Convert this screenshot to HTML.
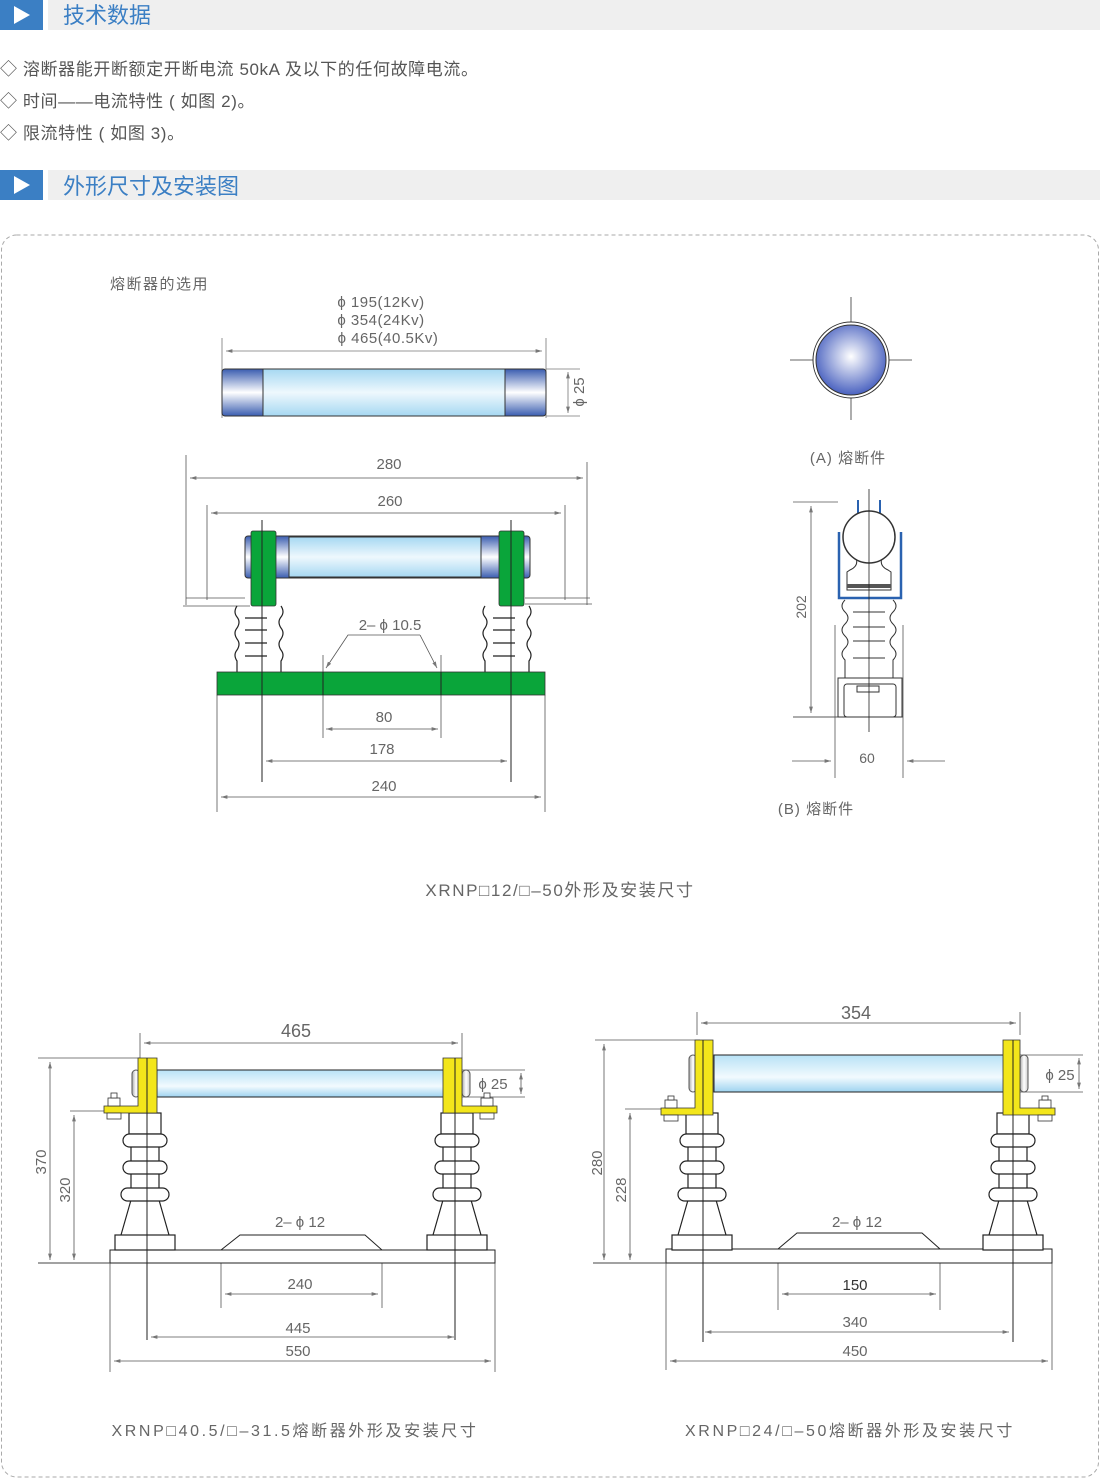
<!DOCTYPE html>
<html><head><meta charset="utf-8"><style>
html,body{margin:0;padding:0;background:#fff;}
svg{display:block;}
text{font-family:"Liberation Sans","Noto Sans CJK SC",sans-serif;fill:#666;}
</style></head><body>
<svg width="1100" height="1480" viewBox="0 0 1100 1480" xmlns="http://www.w3.org/2000/svg">
<defs>
<linearGradient id="cap" x1="0" y1="0" x2="0" y2="1">
<stop offset="0" stop-color="#3a5db0"/><stop offset="0.5" stop-color="#ffffff"/><stop offset="1" stop-color="#3a5db0"/></linearGradient>
<linearGradient id="tube" x1="0" y1="0" x2="0" y2="1">
<stop offset="0" stop-color="#a6d8f2"/><stop offset="0.5" stop-color="#eef8fd"/><stop offset="1" stop-color="#a6d8f2"/></linearGradient>
<linearGradient id="tube2" x1="0" y1="0" x2="0" y2="1">
<stop offset="0" stop-color="#b8e2f6"/><stop offset="0.6" stop-color="#f2fafe"/><stop offset="1" stop-color="#9ed3f0"/></linearGradient>
<radialGradient id="ball" cx="0.5" cy="0.45" r="0.55">
<stop offset="0" stop-color="#ffffff"/><stop offset="1" stop-color="#4a62c0"/></radialGradient>
<linearGradient id="gcap" x1="0" y1="0" x2="1" y2="0">
<stop offset="0" stop-color="#aaa"/><stop offset="0.5" stop-color="#fff"/><stop offset="1" stop-color="#ccc"/></linearGradient>
<marker id="ar" viewBox="0 0 10 10" refX="10" refY="5" markerWidth="8" markerHeight="8" orient="auto-start-reverse"><path d="M0,2 L10,5 L0,8 Z" fill="#777"/></marker>
<g id="ins" fill="#fff" stroke="#222" stroke-width="1.2">
<path d="M-14,1200 L-24,1235 M14,1200 L24,1235" fill="none"/>
<line x1="-14" y1="1113" x2="-14" y2="1200"/><line x1="14" y1="1113" x2="14" y2="1200"/>
<rect x="-16" y="1113" width="32" height="21"/>
<rect x="-22" y="1134" width="44" height="13" rx="6.5"/>
<rect x="-22" y="1161" width="44" height="13" rx="6.5"/>
<rect x="-24" y="1188" width="48" height="13" rx="6.5"/>
<rect x="-30" y="1235" width="60" height="15"/>
</g>
<g id="wav" fill="#fff" stroke="#222" stroke-width="1.2">
<path d="M-22,606 q-4,6 0,11 q4,5 0,11 q-4,5 0,11 q4,5 0,11 q-4,5 0,11 l0,11 M22,606 q4,6 0,11 q-4,5 0,11 q4,5 0,11 q-4,5 0,11 q4,5 0,11 l0,11" fill="none"/>
<line x1="-14" y1="618" x2="8" y2="618"/><line x1="-14" y1="630" x2="8" y2="630"/><line x1="-14" y1="643" x2="8" y2="643"/><line x1="-14" y1="656" x2="8" y2="656"/>
</g>
</defs>

<!-- headers -->
<rect x="0" y="0" width="43" height="30" fill="#3b7fc4"/>
<path d="M14,6 L30,15 L14,24 Z" fill="#fff"/>
<rect x="48" y="0" width="1052" height="30" fill="#efefef"/>
<text x="63" y="23" font-size="22" style="fill:#3b7fc4">技术数据</text>
<text x="0" y="75" font-size="17" letter-spacing="0.6" style="fill:#555">◇ 溶断器能开断额定开断电流 50kA 及以下的任何故障电流。</text>
<text x="0" y="107" font-size="17" letter-spacing="0.6" style="fill:#555">◇ 时间——电流特性 ( 如图 2)。</text>
<text x="0" y="139" font-size="17" letter-spacing="0.6" style="fill:#555">◇ 限流特性 ( 如图 3)。</text>
<rect x="0" y="170" width="43" height="30" fill="#3b7fc4"/>
<path d="M14,176 L30,185 L14,194 Z" fill="#fff"/>
<rect x="48" y="170" width="1052" height="30" fill="#efefef"/>
<text x="63" y="194" font-size="22" style="fill:#3b7fc4">外形尺寸及安装图</text>

<rect x="1.5" y="235" width="1097" height="1242" rx="15" fill="none" stroke="#aaa" stroke-dasharray="4,3"/>

<g stroke="#777" stroke-width="0.8" fill="none">
<line x1="222" y1="338" x2="222" y2="418"/><line x1="546" y1="338" x2="546" y2="418"/>
<line x1="226" y1="351" x2="542" y2="351" marker-start="url(#ar)" marker-end="url(#ar)"/>
<line x1="546" y1="369" x2="580" y2="369"/><line x1="546" y1="416" x2="580" y2="416"/>
<line x1="568" y1="372" x2="568" y2="413" marker-start="url(#ar)" marker-end="url(#ar)"/>
<line x1="790" y1="360" x2="912" y2="360" stroke="#333"/><line x1="851" y1="297" x2="851" y2="420" stroke="#333"/>
</g>
<text x="110" y="289" font-size="15" letter-spacing="1.5">熔断器的选用</text>
<text x="381" y="307" font-size="15" letter-spacing="0.5" text-anchor="middle">ϕ 195(12Kv)</text>
<text x="381" y="325" font-size="15" letter-spacing="0.5" text-anchor="middle">ϕ 354(24Kv)</text>
<text x="388" y="343" font-size="15" letter-spacing="0.5" text-anchor="middle">ϕ 465(40.5Kv)</text>
<text x="0" y="0" font-size="15" text-anchor="middle" transform="translate(584,392) rotate(-90)">ϕ 25</text>
<rect x="222" y="369" width="324" height="47" rx="3" fill="url(#cap)" stroke="#333"/>
<rect x="263" y="369" width="242" height="47" fill="url(#tube)" stroke="#333"/>
<circle cx="851" cy="360" r="38" fill="#fff" stroke="#333"/>
<circle cx="851" cy="360" r="35" fill="url(#ball)" stroke="#333"/>
<text x="848" y="463" font-size="15" letter-spacing="1" text-anchor="middle">(A) 熔断件</text>

<!-- middle left drawing -->
<g stroke="#555" stroke-width="0.8" fill="none">
<line x1="186" y1="455" x2="186" y2="605"/><line x1="587" y1="462" x2="587" y2="605"/>
<line x1="190" y1="478" x2="583" y2="478" marker-start="url(#ar)" marker-end="url(#ar)"/>
<line x1="207" y1="505" x2="207" y2="600"/><line x1="565" y1="505" x2="565" y2="600"/>
<line x1="211" y1="513" x2="561" y2="513" marker-start="url(#ar)" marker-end="url(#ar)"/>
<line x1="186" y1="598" x2="245" y2="598"/><line x1="183" y1="606" x2="250" y2="606"/>
<line x1="525" y1="598" x2="590" y2="598"/><line x1="525" y1="604" x2="592" y2="604"/>
<line x1="217" y1="695" x2="217" y2="812"/><line x1="545" y1="695" x2="545" y2="812"/>
<line x1="323" y1="655" x2="323" y2="738"/><line x1="441" y1="655" x2="441" y2="738"/>
<line x1="326" y1="729" x2="438" y2="729" marker-start="url(#ar)" marker-end="url(#ar)"/>
<line x1="266" y1="761" x2="507" y2="761" marker-start="url(#ar)" marker-end="url(#ar)"/>
<line x1="221" y1="797" x2="541" y2="797" marker-start="url(#ar)" marker-end="url(#ar)"/>
<path d="M420,635 L348,635 L326,668" marker-end="url(#ar)"/>
<path d="M420,635 L437,668" marker-end="url(#ar)"/>
</g>
<text x="389" y="469" font-size="15" text-anchor="middle">280</text>
<text x="390" y="506" font-size="15" text-anchor="middle">260</text>
<text x="390" y="630" font-size="15" text-anchor="middle">2– ϕ 10.5</text>
<text x="384" y="722" font-size="15" text-anchor="middle">80</text>
<text x="382" y="754" font-size="15" text-anchor="middle">178</text>
<text x="384" y="791" font-size="15" text-anchor="middle">240</text>
<rect x="245" y="536" width="285" height="42" rx="3" fill="url(#cap)" stroke="#333"/>
<rect x="289" y="537" width="192" height="40" fill="url(#tube)" stroke="#333"/>
<use href="#wav" transform="translate(259,0)"/>
<use href="#wav" transform="translate(507,0)"/>
<rect x="251" y="531" width="25" height="75" rx="2" fill="#0aa53a" stroke="#333" stroke-width="0.8"/>
<rect x="499" y="531" width="25" height="75" rx="2" fill="#0aa53a" stroke="#333" stroke-width="0.8"/>
<rect x="217" y="672" width="328" height="23" fill="#0aa53a" stroke="#333" stroke-width="0.8"/>
<g stroke="#222" stroke-width="1"><line x1="262" y1="520" x2="262" y2="782"/><line x1="511" y1="520" x2="511" y2="782"/>
<line x1="323" y1="672" x2="323" y2="695"/><line x1="441" y1="672" x2="441" y2="695"/></g>

<!-- (B) side view -->
<g stroke="#555" stroke-width="0.8" fill="none">
<line x1="793" y1="502" x2="838" y2="502"/><line x1="793" y1="717" x2="903" y2="717" stroke="#222"/>
<line x1="811" y1="506" x2="811" y2="713" marker-start="url(#ar)" marker-end="url(#ar)"/>
<line x1="835" y1="625" x2="835" y2="778"/><line x1="903" y1="625" x2="903" y2="778"/>
<line x1="792" y1="761" x2="831" y2="761" marker-end="url(#ar)"/>
<line x1="945" y1="761" x2="907" y2="761" marker-end="url(#ar)"/>
</g>
<text x="0" y="0" font-size="14" text-anchor="middle" transform="translate(806,607) rotate(-90)">202</text>
<text x="867" y="763" font-size="14" text-anchor="middle">60</text>
<text x="816" y="814" font-size="15" letter-spacing="1" text-anchor="middle">(B) 熔断件</text>
<path d="M839,532 L839,598 L901,598 L901,532" fill="none" stroke="#2a62b0" stroke-width="2.5"/>
<path d="M858,500 L858,515 M880,500 L880,515" stroke="#2a62b0" stroke-width="2"/>
<path d="M856,558 q3,8 -6,12 l-3,2 l0,18 l44,0 l0,-18 l-3,-2 q-9,-4 -6,-12" fill="#fff" stroke="#333"/>
<rect x="847" y="584" width="44" height="4" fill="#555"/>
<circle cx="869" cy="537" r="26" fill="#fff" stroke="#333" stroke-width="1.5"/>
<path d="M845,600 q-6,6 0,12 q6,6 0,12 q-6,6 0,12 q6,6 0,12 q-6,6 0,12 l0,18 M893,600 q6,6 0,12 q-6,6 0,12 q6,6 0,12 q-6,6 0,12 q6,6 0,12 l0,18" fill="none" stroke="#333"/>
<g stroke="#333"><line x1="853" y1="612" x2="885" y2="612"/><line x1="853" y1="627" x2="885" y2="627"/><line x1="853" y1="641" x2="885" y2="641"/><line x1="853" y1="658" x2="885" y2="658"/></g>
<rect x="838" y="678" width="64" height="39" fill="#fff" stroke="#333"/>
<rect x="844" y="684" width="52" height="33" rx="3" fill="none" stroke="#333"/>
<rect x="857" y="686" width="22" height="6" fill="none" stroke="#333"/>
<line x1="869" y1="489" x2="869" y2="732" stroke="#222" stroke-width="0.8"/>

<text x="560" y="896" font-size="17" letter-spacing="1.6" text-anchor="middle">XRNP□12/□–50外形及安装尺寸</text>

<!-- bottom left -->
<g stroke="#555" stroke-width="0.8" fill="none">
<line x1="140" y1="1033" x2="140" y2="1058"/><line x1="462" y1="1033" x2="462" y2="1058"/>
<line x1="144" y1="1043" x2="458" y2="1043" marker-start="url(#ar)" marker-end="url(#ar)"/>
<line x1="38" y1="1058" x2="140" y2="1058"/>
<line x1="50" y1="1062" x2="50" y2="1260" marker-start="url(#ar)" marker-end="url(#ar)"/>
<line x1="70" y1="1111" x2="105" y2="1111"/>
<line x1="74" y1="1115" x2="74" y2="1260" marker-start="url(#ar)" marker-end="url(#ar)"/>
<line x1="460" y1="1070" x2="525" y2="1070"/><line x1="460" y1="1097" x2="525" y2="1097"/>
<line x1="521" y1="1073" x2="521" y2="1094" marker-start="url(#ar)" marker-end="url(#ar)"/>
<line x1="221" y1="1250" x2="221" y2="1308"/><line x1="382" y1="1250" x2="382" y2="1308"/>
<line x1="225" y1="1294" x2="378" y2="1294" marker-start="url(#ar)" marker-end="url(#ar)"/>
<line x1="151" y1="1337" x2="454" y2="1337" marker-start="url(#ar)" marker-end="url(#ar)"/>
<line x1="110" y1="1263" x2="110" y2="1372"/><line x1="495" y1="1263" x2="495" y2="1372"/>
<line x1="114" y1="1361" x2="491" y2="1361" marker-start="url(#ar)" marker-end="url(#ar)"/>
</g>
<text x="296" y="1037" font-size="18" text-anchor="middle">465</text>
<text x="0" y="0" font-size="15" text-anchor="middle" transform="translate(46,1162) rotate(-90)">370</text>
<text x="0" y="0" font-size="15" text-anchor="middle" transform="translate(70,1190) rotate(-90)">320</text>
<text x="493" y="1089" font-size="15" text-anchor="middle">ϕ 25</text>
<text x="300" y="1227" font-size="15" text-anchor="middle">2– ϕ 12</text>
<text x="300" y="1289" font-size="15" text-anchor="middle">240</text>
<text x="298" y="1333" font-size="15" text-anchor="middle">445</text>
<text x="298" y="1356" font-size="15" text-anchor="middle">550</text>
<rect x="110" y="1250" width="385" height="13" fill="#fff" stroke="#222"/>
<line x1="38" y1="1263" x2="110" y2="1263" stroke="#444"/>
<path d="M221,1250 L240,1235 L365,1235 L382,1250" fill="none" stroke="#222"/>
<use href="#ins" transform="translate(145,0)"/>
<use href="#ins" transform="translate(457,0)"/>
<rect x="157" y="1070" width="289" height="27" fill="url(#tube2)" stroke="#222"/>
<rect x="132" y="1070" width="8" height="27" rx="4" fill="url(#gcap)" stroke="#555"/>
<rect x="462" y="1070" width="8" height="27" rx="4" fill="url(#gcap)" stroke="#555"/>
<g fill="#f3e61b" stroke="#333" stroke-width="0.8">
<path d="M138,1058 L157,1058 L157,1113 L104,1113 L104,1106 L138,1106 Z"/>
<path d="M443,1058 L462,1058 L462,1106 L497,1106 L497,1113 L443,1113 Z"/>
</g>
<g fill="#fff" stroke="#333" stroke-width="0.8">
<rect x="108" y="1098" width="12" height="8"/><rect x="111" y="1093" width="6" height="5"/><rect x="107" y="1113" width="14" height="6"/>
<rect x="481" y="1098" width="12" height="8"/><rect x="484" y="1093" width="6" height="5"/><rect x="480" y="1113" width="14" height="6"/>
</g>
<g stroke="#222" stroke-width="1"><line x1="147" y1="1058" x2="147" y2="1340"/><line x1="455" y1="1058" x2="455" y2="1340"/></g>
<text x="295" y="1436" font-size="16" letter-spacing="2.6" text-anchor="middle">XRNP□40.5/□–31.5熔断器外形及安装尺寸</text>

<!-- bottom right -->
<g stroke="#555" stroke-width="0.8" fill="none">
<line x1="697" y1="1012" x2="697" y2="1035"/><line x1="1020" y1="1012" x2="1020" y2="1035"/>
<line x1="701" y1="1023" x2="1016" y2="1023" marker-start="url(#ar)" marker-end="url(#ar)"/>
<line x1="595" y1="1040" x2="700" y2="1040"/>
<line x1="604" y1="1044" x2="604" y2="1260" marker-start="url(#ar)" marker-end="url(#ar)"/>
<line x1="625" y1="1109" x2="665" y2="1109"/>
<line x1="630" y1="1113" x2="630" y2="1260" marker-start="url(#ar)" marker-end="url(#ar)"/>
<line x1="1020" y1="1055" x2="1083" y2="1055"/><line x1="1020" y1="1092" x2="1083" y2="1092"/>
<line x1="1079" y1="1058" x2="1079" y2="1089" marker-start="url(#ar)" marker-end="url(#ar)"/>
<line x1="778" y1="1249" x2="778" y2="1310"/><line x1="940" y1="1249" x2="940" y2="1310"/>
<line x1="782" y1="1294" x2="936" y2="1294" marker-start="url(#ar)" marker-end="url(#ar)"/>
<line x1="705" y1="1332" x2="1009" y2="1332" marker-start="url(#ar)" marker-end="url(#ar)"/>
<line x1="666" y1="1263" x2="666" y2="1370"/><line x1="1052" y1="1263" x2="1052" y2="1370"/>
<line x1="670" y1="1361" x2="1048" y2="1361" marker-start="url(#ar)" marker-end="url(#ar)"/>
</g>
<text x="856" y="1019" font-size="18" text-anchor="middle">354</text>
<text x="0" y="0" font-size="15" text-anchor="middle" transform="translate(602,1163) rotate(-90)">280</text>
<text x="0" y="0" font-size="15" text-anchor="middle" transform="translate(626,1190) rotate(-90)">228</text>
<text x="1060" y="1080" font-size="15" text-anchor="middle">ϕ 25</text>
<text x="857" y="1227" font-size="15" text-anchor="middle">2– ϕ 12</text>
<text x="855" y="1290" font-size="15" text-anchor="middle" style="fill:#333">150</text>
<text x="855" y="1327" font-size="15" text-anchor="middle">340</text>
<text x="855" y="1356" font-size="15" text-anchor="middle">450</text>
<rect x="666" y="1249" width="386" height="14" fill="#fff" stroke="#222"/>
<line x1="593" y1="1263" x2="666" y2="1263" stroke="#444"/>
<path d="M778,1249 L797,1233 L922,1233 L940,1249" fill="none" stroke="#222"/>
<use href="#ins" transform="translate(702,0)"/>
<use href="#ins" transform="translate(1013,0)"/>
<rect x="714" y="1055" width="290" height="37" fill="url(#tube2)" stroke="#222"/>
<rect x="689" y="1055" width="8" height="37" rx="4" fill="url(#gcap)" stroke="#555"/>
<rect x="1020" y="1055" width="8" height="37" rx="4" fill="url(#gcap)" stroke="#555"/>
<g fill="#f3e61b" stroke="#333" stroke-width="0.8">
<path d="M695,1040 L713,1040 L713,1115 L661,1115 L661,1108 L695,1108 Z"/>
<path d="M1003,1040 L1020,1040 L1020,1108 L1055,1108 L1055,1115 L1003,1115 Z"/>
</g>
<g fill="#fff" stroke="#333" stroke-width="0.8">
<rect x="665" y="1100" width="12" height="8"/><rect x="668" y="1096" width="6" height="4"/><rect x="664" y="1115" width="14" height="6"/>
<rect x="1039" y="1100" width="12" height="8"/><rect x="1042" y="1096" width="6" height="4"/><rect x="1038" y="1115" width="14" height="6"/>
</g>
<g stroke="#222" stroke-width="1"><line x1="703" y1="1040" x2="703" y2="1342"/><line x1="1013" y1="1040" x2="1013" y2="1342"/></g>
<text x="850" y="1436" font-size="16" letter-spacing="2.6" text-anchor="middle">XRNP□24/□–50熔断器外形及安装尺寸</text>
</svg>
</body></html>
